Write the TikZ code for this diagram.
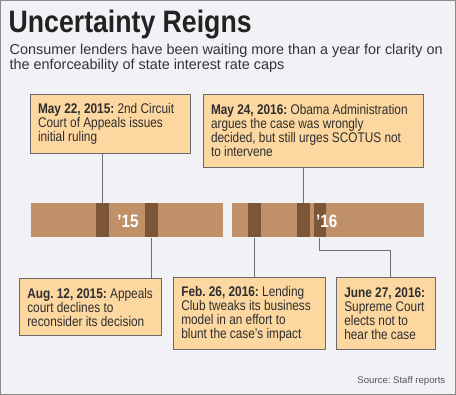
\documentclass[tikz,border=0pt]{standalone}
\usepackage{fontspec}
\setmainfont{Liberation Sans}
\newfontfamily\condfont{Liberation Sans}[FakeStretch=0.845]
\newfontfamily\titlefont{Liberation Sans}[FakeStretch=0.86]
\frenchspacing
\definecolor{bgc}{HTML}{F2F1F6}
\definecolor{framec}{HTML}{8C8C8C}
\definecolor{boxfill}{HTML}{FDD7A0}
\definecolor{boxline}{HTML}{6A6A6A}
\definecolor{barc}{HTML}{C09168}
\definecolor{markc}{HTML}{7B5738}
\definecolor{linec}{HTML}{707070}
\definecolor{textc}{HTML}{2E2E2E}
\definecolor{titlec}{HTML}{222222}
\definecolor{subc}{HTML}{333333}
\definecolor{srcc}{HTML}{555555}
\tikzset{
  evbox/.style={draw=boxline, fill=boxfill, line width=0.9pt, anchor=north west, inner sep=0pt},
  evtext/.style={anchor=west, align=left, inner sep=0pt, text=textc, xshift=7.8pt,
    font=\condfont\fontsize{14}{14}\selectfont},
  barbox/.style={fill=barc, anchor=north west, inner sep=0pt, minimum height=34pt},
  markbox/.style={fill=markc, anchor=north west, inner sep=0pt, minimum height=34pt, minimum width=12.7pt},
  conn/.style={draw=linec, line width=1pt},
  yearlbl/.style={text=white, inner sep=0pt, font=\condfont\bfseries\fontsize{18}{18}\selectfont}
}
\begin{document}
\begin{tikzpicture}[x=1pt,y=-1pt]
\path[use as bounding box] (0,0) rectangle (456,395);
\fill[bgc] (0,0) rectangle (456,395);
\draw[framec, line width=1pt] (0.5,0.5) rectangle (455.5,394.5);

\node[anchor=base west, inner sep=0pt, text=titlec,
  font=\titlefont\bfseries\fontsize{31}{31}\selectfont] (title) at (8.5,32.3) {Uncertainty Reigns};
\node[anchor=north west, inner sep=0pt, align=left, text=subc,
  font=\fontsize{14.4}{13}\selectfont] (sub) at (9.5,44)
  {Consumer lenders have been waiting more than a year for clarity on\\
   the enforceability of state interest rate caps};

% bars
\node[barbox, minimum width=192pt] (barL) at (30.7,203.3) {};
\node[barbox, minimum width=192.3pt] (barR) at (231.7,203.3) {};
\node[markbox] (m1) at (96,203.3) {};
\node[markbox] (m2) at (145,203.3) {};
\node[markbox] (m3) at (247.7,203.3) {};
\node[markbox] (m4) at (296.7,203.3) {};
\node[markbox] (m5) at (313.3,203.3) {};
\node[yearlbl] (y15) at (128,221.5) {’15};
\node[yearlbl] (y16) at (326.8,221.5) {’16};

% boxes
\node[evbox, minimum width=160pt, minimum height=59pt] (b1) at (30,94) {};
\node[evtext] (t1) at (b1.west)
  {\textbf{May 22, 2015:} 2nd Circuit\\ Court of Appeals issues\\ initial ruling};
\node[evbox, minimum width=220pt, minimum height=73pt] (b2) at (203,94) {};
\node[evtext] (t2) at (b2.west)
  {\textbf{May 24, 2016:} Obama Administration\\ argues the case was wrongly\\ decided, but still urges SCOTUS not\\ to intervene};
\node[evbox, minimum width=142pt, minimum height=57pt] (b3) at (19.3,278.3) {};
\node[evtext] (t3) at (b3.west)
  {\textbf{Aug. 12, 2015:} Appeals\\ court declines to\\ reconsider its decision};
\node[evbox, minimum width=151.5pt, minimum height=72pt] (b4) at (173.3,277.3) {};
\node[evtext] (t4) at (b4.west)
  {\textbf{Feb. 26, 2016:} Lending\\ Club tweaks its business\\ model in an effort to\\ blunt the case’s impact};
\node[evbox, minimum width=99pt, minimum height=72pt] (b5) at (336.3,277.3) {};
\node[evtext] (t5) at (b5.west)
  {\textbf{June 27, 2016:}\\ Supreme Court\\ elects not to\\ hear the case};

% connectors
\coordinate (j5) at (390.7,251);
\draw[conn] (m1.north |- b1.south) -- (m1.north);
\draw[conn] (m4.north |- b2.south) -- (m4.north);
\draw[conn] (m2.south) -- (m2.south |- b3.north);
\draw[conn] (m3.south) -- (m3.south |- b4.north);
\draw[conn] (m5.south) |- (j5) -- (j5 |- b5.north);

\node[anchor=base east, inner sep=0pt, text=srcc, font=\fontsize{9.6}{10}\selectfont] (src) at (445.5,384) {Source: Staff reports};
\end{tikzpicture}
\end{document}
